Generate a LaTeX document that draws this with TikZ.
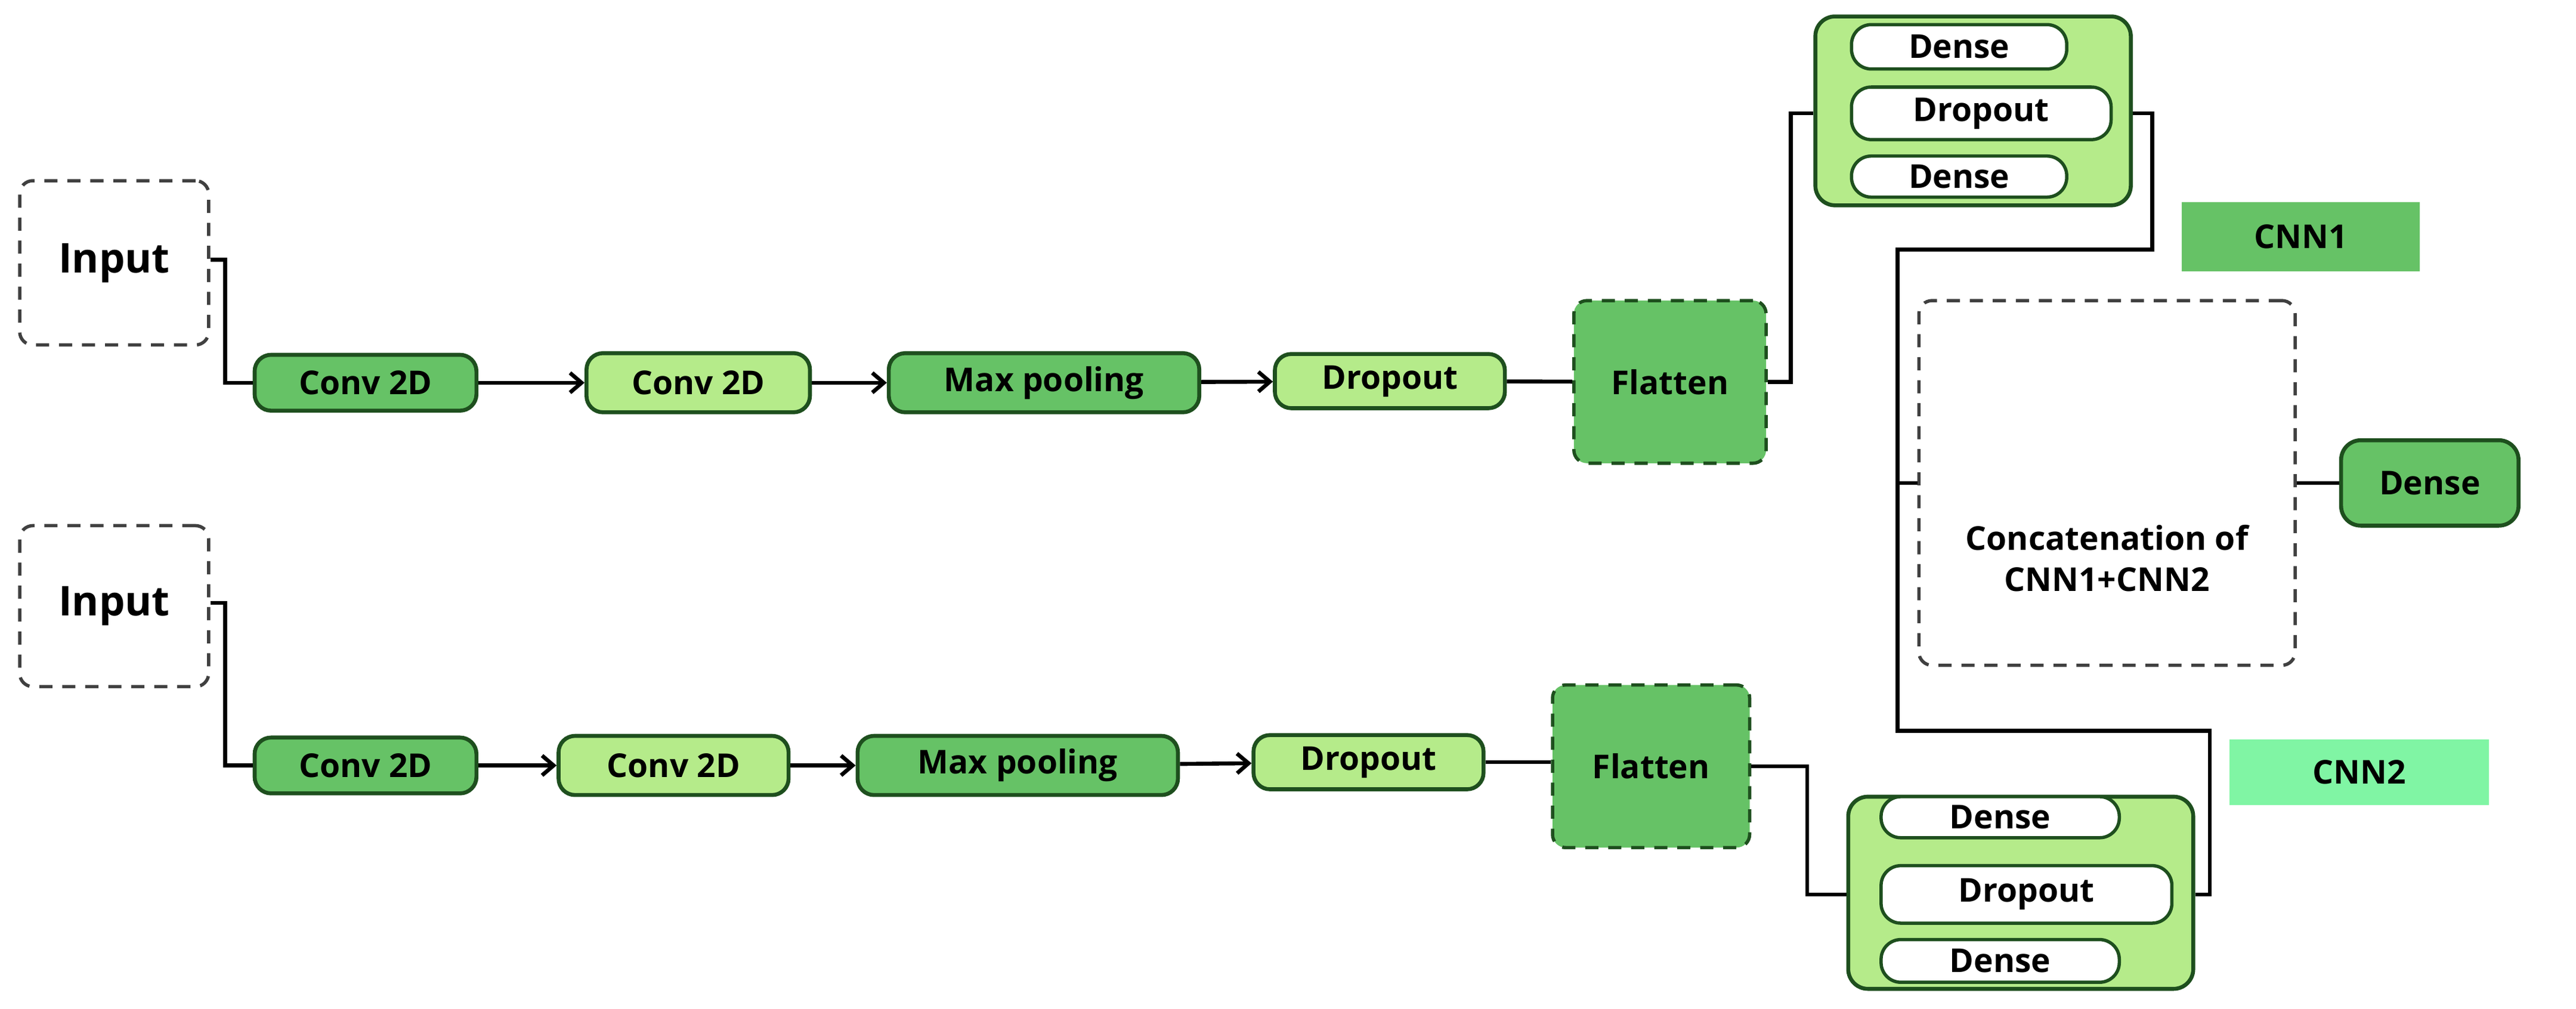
\documentclass[tikz,border=0pt]{standalone}
\usepackage{fontspec}
\setmainfont{Open Sans}
\usetikzlibrary{arrows.meta}
\definecolor{darkg}{HTML}{66C266}
\definecolor{lightg}{HTML}{B5EB8A}
\definecolor{edgeg}{HTML}{1E4F1E}
\definecolor{mint}{HTML}{80F5A4}
\tikzset{
  lbl/.style={font=\fontsize{20}{25}\selectfont\bfseries},
  layer/.style={lbl,draw=edgeg,line width=2.4pt,rounded corners=10pt,inner sep=0pt},
  dk/.style={layer,fill=darkg},
  lt/.style={layer,fill=lightg},
  pill/.style={lbl,draw=edgeg,line width=2pt,fill=white,rounded corners=12pt,inner sep=0pt},
  dbox/.style={lbl,draw=black!75,dashed,dash pattern=on 8pt off 6pt,line width=2pt,rounded corners=8pt,inner sep=0pt},
  conn/.style={line width=2.4pt},
  arr/.style={conn,-{Straight Barb[length=7pt,width=12pt]}}
}
\begin{document}
\begin{tikzpicture}[x=1pt,y=-1pt]
    \useasboundingbox (0,0) rectangle (1568,614);
    % upper branch
    \node[dbox,minimum width=115pt,minimum height=100pt] at (69.5,160) (in1) {\fontsize{25}{30}\selectfont Input};
    \node[dk,minimum width=135pt,minimum height=34pt] at (222.5,233) (c1a) {Conv 2D};
    \node[lt,minimum width=136pt,minimum height=36pt] at (425,233) (c1b) {Conv 2D};
    \node[dk,minimum width=189pt,minimum height=36pt] at (635.5,233) (mp1) {Max pooling};
    \node[lt,minimum width=140pt,minimum height=33pt] at (846,232) (dr1) {Dropout};
    \node[dbox,draw=edgeg,fill=darkg,minimum width=117pt,minimum height=99pt] at (1016.5,232.5) (fl1) {Flatten};
    \node[lt,rounded corners=12pt,minimum width=192pt,minimum height=115pt] at (1201,67.5) (g1) {};
    \node[pill,minimum width=131pt,minimum height=27pt] at (1192.5,28.5) (g1a) {Dense};
    \node[pill,minimum width=158pt,minimum height=32pt] at (1206,69) (g1b) {Dropout};
    \node[pill,minimum width=131pt,minimum height=25pt] at (1192.5,107.5) (g1c) {Dense};
    % lower branch
    \node[dbox,minimum width=115pt,minimum height=98pt] at (69.5,369) (in2) {\fontsize{25}{30}\selectfont Input};
    \node[dk,minimum width=135pt,minimum height=34pt] at (222.5,466) (c2a) {Conv 2D};
    \node[lt,minimum width=140pt,minimum height=36pt] at (410,466) (c2b) {Conv 2D};
    \node[dk,minimum width=195pt,minimum height=36pt] at (619.5,466) (mp2) {Max pooling};
    \node[lt,minimum width=140pt,minimum height=33pt] at (833,464) (dr2) {Dropout};
    \node[dbox,draw=edgeg,fill=darkg,minimum width=120pt,minimum height=99pt] at (1005,466.5) (fl2) {Flatten};
    \node[lt,rounded corners=12pt,minimum width=210pt,minimum height=117pt] at (1230,543.5) (g2) {};
    \node[pill,minimum width=145pt,minimum height=25pt] at (1217.5,497.5) (g2a) {Dense};
    \node[pill,minimum width=177pt,minimum height=35pt] at (1233.5,544.5) (g2b) {Dropout};
    \node[pill,minimum width=145pt,minimum height=26pt] at (1217.5,585) (g2c) {Dense};
    % merge
    \node[lbl,fill=darkg,minimum width=145pt,minimum height=42pt] at (1400.5,144) (cnn1) {CNN1};
    \node[lbl,fill=mint,minimum width=158pt,minimum height=40pt] at (1436,470) (cnn2) {CNN2};
    \node[dbox,minimum width=229pt,minimum height=222pt] at (1282.5,294) (cat) {};
    \node[lbl,align=center] at (1282.5,340) (cattxt) {Concatenation of\\CNN1+CNN2};
    \node[dk,rounded corners=12pt,minimum width=108pt,minimum height=52pt] at (1479,294) (out) {Dense};
    \coordinate (j1) at (1310,152);
    \coordinate (j2) at (1155,152);
    \coordinate (j3) at (1155,445);
    \coordinate (j4) at (1345,445);
    % connectors
    \draw[conn] (in1.east|-0,158) -- (137,158) |- (c1a.west);
    \draw[conn] (in2.east|-0,367) -- (137,367) |- (c2a.west);
    \draw[arr] (c1a) -- (c1b);
    \draw[arr] (c1b) -- (mp1);
    \draw[arr] (mp1) -- (dr1);
    \draw[conn] (dr1) -- (fl1);
    \draw[arr] (c2a) -- (c2b);
    \draw[arr] (c2b) -- (mp2);
    \draw[arr] (mp2) -- (dr2);
    \draw[conn] (dr2.east) -- (fl2.west|-dr2.east);
    \draw[conn] (fl1.east) -- (1090,232.5) |- (g1.west|-g1b);
    \draw[conn] (fl2.east) -- (1100,466.5) |- (g2.west|-g2b);
    \draw[conn] (g1.east|-g1b) -| (j1) -- (j2) -- (j3) -- (j4) |- (g2.east|-g2b);
    \draw[conn] (cat.west) -- (cat.west-|j2);
    \draw[conn] (cat) -- (out);
\end{tikzpicture}
\end{document}
